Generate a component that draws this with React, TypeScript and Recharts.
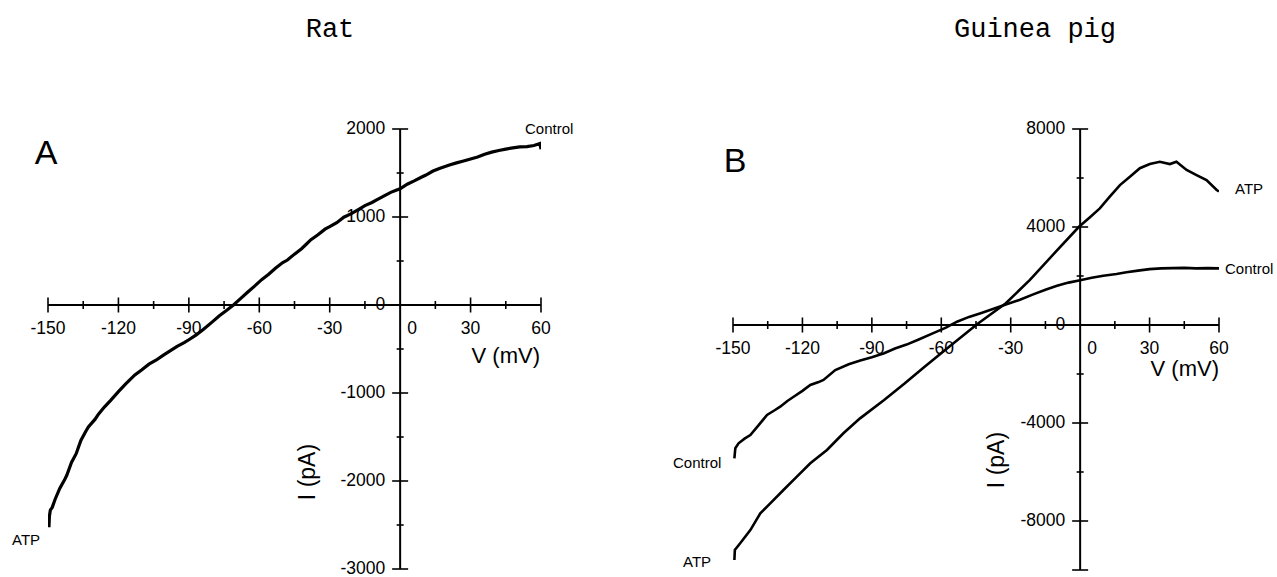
import React from 'react';
import { LineChart, Line, XAxis, YAxis, ReferenceLine, ReferenceDot } from 'recharts';

// ---------- data ----------
const xMajorTicks = [-150, -120, -90, -60, -30, 0, 30, 60];
const xMinorTicks = [-135, -105, -75, -45, -15, 15, 45];

const ratYMajor = [2000, 1000, 0, -1000, -2000, -3000];
const ratYMinor = [1500, 500, -500, -1500, -2500];

const gpYMajor = [8000, 4000, 0, -4000, -8000];
const gpYMinor = [6000, 2000, -2000, -6000];
const gpYEnd = [-10000];

// Rat (panel A) single trace: V (mV), I (pA)
const ratV = [-149.6, -149.4, -149.0, -148.2, -147, -145, -143, -142, -140, -138, -136, -134, -132.8, -130, -128.5, -126, -123.5, -120, -117, -113, -110, -107, -104, -101, -98, -95, -92, -90, -87, -84, -80, -77, -74, -71, -68, -65, -62, -59, -56, -53, -50, -48, -45, -42, -40, -38, -35, -32, -30, -27, -24, -21, -18, -15, -12, -10, -7, -4, -2, 0, 3, 6, 9, 11, 14, 17, 21, 24, 27, 30, 33, 36, 39, 42, 45, 48, 51, 54, 57, 59.5, 60];
const ratI = [-2525, -2400, -2330, -2300, -2210, -2085, -1990, -1935, -1790, -1690, -1540, -1440, -1385, -1300, -1240, -1160, -1090, -985, -900, -795, -735, -672, -628, -572, -522, -470, -428, -395, -342, -282, -192, -122, -62, 0, 72, 145, 215, 288, 350, 420, 482, 511, 578, 640, 690, 742, 798, 862, 890, 935, 998, 1035, 1082, 1130, 1165, 1195, 1238, 1280, 1300, 1320, 1372, 1410, 1452, 1477, 1522, 1555, 1592, 1615, 1637, 1660, 1682, 1712, 1737, 1755, 1772, 1786, 1796, 1800, 1812, 1835, 1770];

// Guinea pig (panel B) control trace
const gpCtrlV = [-149.4, -149.0, -147.6, -145, -142.5, -139, -135.3, -132, -129.6, -126.5, -123.8, -120, -116.6, -113, -110.9, -105.8, -100, -95, -90, -84.7, -80, -75, -70, -63.7, -58, -53.2, -48, -43, -38, -32.1, -26, -20, -15, -10, -5, 0, 5, 10, 15.7, 20, 25, 30, 35, 40, 45, 50, 55, 60];
const gpCtrlI = [-5440, -5030, -4830, -4640, -4490, -4100, -3670, -3480, -3335, -3100, -2930, -2690, -2450, -2330, -2245, -1840, -1600, -1450, -1320, -1155, -960, -800, -600, -340, -110, 135, 330, 480, 640, 840, 1030, 1260, 1440, 1600, 1730, 1830, 1930, 2010, 2080, 2150, 2220, 2280, 2310, 2320, 2330, 2310, 2320, 2310];

// Guinea pig (panel B) ATP trace
const gpAtpV = [-149.4, -149.2, -146.9, -142.5, -138.2, -133.9, -128.2, -122.4, -116.6, -109.4, -102.3, -95.1, -84.7, -76, -67.2, -56.6, -44.4, -32.1, -21.7, -11.1, -0.5, 4, 8.5, 12.8, 17.2, 21.5, 25.8, 30.1, 34.4, 38.8, 41.6, 46, 50.3, 54.6, 59, 60];
const gpAtpI = [-9590, -9180, -8910, -8370, -7690, -7280, -6735, -6190, -5645, -5100, -4420, -3810, -3060, -2400, -1700, -890, 40, 890, 1840, 2930, 4010, 4380, 4760, 5240, 5710, 6050, 6400, 6570, 6660, 6570, 6660, 6330, 6120, 5920, 5510, 5450];

const ratData = ratV.map((v, k) => ({ v, i: ratI[k] }));
const gpCtrlData = gpCtrlV.map((v, k) => ({ v, i: gpCtrlI[k] }));
const gpAtpData = gpAtpV.map((v, k) => ({ v, i: gpAtpI[k] }));

// ---------- styles ----------
const SANS = '"Liberation Sans", Arial, Helvetica, sans-serif';
const MONO = '"Liberation Mono", "Courier New", monospace';
const TICK_FONT = 17.5;

function xTickShape(label: string | null, half: number, isZero: boolean) {
  return (p: any) => (
    <g>
      {!isZero && (
        <line x1={p.cx} x2={p.cx} y1={p.cy - half} y2={p.cy + half} stroke="#000" strokeWidth={1.6} />
      )}
      {label !== null && (
        <text
          x={isZero ? p.cx + 7 : p.cx}
          y={p.cy + 23}
          textAnchor={isZero ? 'start' : 'middle'}
          dominantBaseline="central"
          fontFamily={SANS}
          fontSize={TICK_FONT}
          fill="#000"
        >
          {label}
        </text>
      )}
    </g>
  );
}

function yTickShape(label: string | null, half: number) {
  return (p: any) => (
    <g>
      <line x1={p.cx - half} x2={p.cx + half} y1={p.cy} y2={p.cy} stroke="#000" strokeWidth={1.6} />
      {label !== null && (
        <text
          x={p.cx - 15}
          y={p.cy - 1.5}
          textAnchor="end"
          dominantBaseline="central"
          fontFamily={SANS}
          fontSize={TICK_FONT}
          fill="#000"
        >
          {label}
        </text>
      )}
    </g>
  );
}

function renderAxes(yMajor: number[], yMinor: number[], yEnd: number[]) {
  const els: any[] = [];
  els.push(<ReferenceLine key="xa" y={0} stroke="#000" strokeWidth={2} ifOverflow="visible" />);
  els.push(<ReferenceLine key="ya" x={0} stroke="#000" strokeWidth={2} ifOverflow="visible" />);
  xMajorTicks.forEach((t) =>
    els.push(
      <ReferenceDot key={'xM' + t} x={t} y={0} r={1} ifOverflow="visible" shape={xTickShape(String(t), 7.5, t === 0)} />
    )
  );
  xMinorTicks.forEach((t) =>
    els.push(<ReferenceDot key={'xm' + t} x={t} y={0} r={1} ifOverflow="visible" shape={xTickShape(null, 4, false)} />)
  );
  yMajor.forEach((t) =>
    els.push(<ReferenceDot key={'yM' + t} x={0} y={t} r={1} ifOverflow="visible" shape={yTickShape(String(t), 8)} />)
  );
  yMinor.forEach((t) =>
    els.push(<ReferenceDot key={'ym' + t} x={0} y={t} r={1} ifOverflow="visible" shape={yTickShape(null, 3.5)} />)
  );
  yEnd.forEach((t) =>
    els.push(<ReferenceDot key={'ye' + t} x={0} y={t} r={1} ifOverflow="visible" shape={yTickShape(null, 8)} />)
  );
  return els;
}

export default function App() {
  return (
    <div style={{ position: 'absolute', left: 0, top: 0, width: 1277, height: 577, background: '#fff', overflow: 'hidden' }}>
      {/* Panel A: Rat */}
      <div style={{ position: 'absolute', left: 0, top: 0 }}>
        <LineChart width={640} height={577} margin={{ top: 129, right: 99, bottom: 8, left: 48 }}>
          <XAxis type="number" dataKey="v" domain={[-150, 60]} allowDataOverflow hide />
          <YAxis type="number" dataKey="i" domain={[-3000, 2000]} allowDataOverflow hide />
          {renderAxes(ratYMajor, ratYMinor, [])}
          <Line data={ratData} dataKey="i" type="linear" stroke="#000" strokeWidth={3.2} dot={false} isAnimationActive={false} />
        </LineChart>
      </div>

      {/* Panel B: Guinea pig */}
      <div style={{ position: 'absolute', left: 640, top: 0 }}>
        <LineChart width={637} height={577} margin={{ top: 129, right: 58, bottom: 7, left: 93 }}>
          <XAxis type="number" dataKey="v" domain={[-150, 60]} allowDataOverflow hide />
          <YAxis type="number" dataKey="i" domain={[-10000, 8000]} allowDataOverflow hide />
          {renderAxes(gpYMajor, gpYMinor, gpYEnd)}
          <Line data={gpCtrlData} dataKey="i" type="linear" stroke="#000" strokeWidth={2.6} dot={false} isAnimationActive={false} />
          <Line data={gpAtpData} dataKey="i" type="linear" stroke="#000" strokeWidth={2.6} dot={false} isAnimationActive={false} />
        </LineChart>
      </div>

      {/* Text overlay */}
      <svg width={1277} height={577} style={{ position: 'absolute', left: 0, top: 0, pointerEvents: 'none' }}>
        <text x={330} y={30} textAnchor="middle" dominantBaseline="central" fontFamily={MONO} fontSize={27}>Rat</text>
        <text x={1035} y={30} textAnchor="middle" dominantBaseline="central" fontFamily={MONO} fontSize={27}>Guinea pig</text>

        <text x={46} y={152} textAnchor="middle" dominantBaseline="central" fontFamily={SANS} fontSize={34}>A</text>
        <text x={735} y={160} textAnchor="middle" dominantBaseline="central" fontFamily={SANS} fontSize={34}>B</text>

        <text x={540} y={355} textAnchor="end" dominantBaseline="central" fontFamily={SANS} fontSize={22}>V (mV)</text>
        <text x={1219} y={368} textAnchor="end" dominantBaseline="central" fontFamily={SANS} fontSize={22}>V (mV)</text>

        <text x={307} y={472} textAnchor="middle" dominantBaseline="central" fontFamily={SANS} fontSize={23} transform="rotate(-90 307 472)">I (pA)</text>
        <text x={996} y={460} textAnchor="middle" dominantBaseline="central" fontFamily={SANS} fontSize={23} transform="rotate(-90 996 460)">I (pA)</text>

        <text x={525} y={128} textAnchor="start" dominantBaseline="central" fontFamily={SANS} fontSize={15}>Control</text>
        <text x={12} y={539} textAnchor="start" dominantBaseline="central" fontFamily={SANS} fontSize={15}>ATP</text>

        <text x={1235} y={188} textAnchor="start" dominantBaseline="central" fontFamily={SANS} fontSize={15}>ATP</text>
        <text x={1225} y={268} textAnchor="start" dominantBaseline="central" fontFamily={SANS} fontSize={15}>Control</text>
        <text x={673} y={462} textAnchor="start" dominantBaseline="central" fontFamily={SANS} fontSize={15}>Control</text>
        <text x={683} y={561} textAnchor="start" dominantBaseline="central" fontFamily={SANS} fontSize={15}>ATP</text>
      </svg>
    </div>
  );
}
